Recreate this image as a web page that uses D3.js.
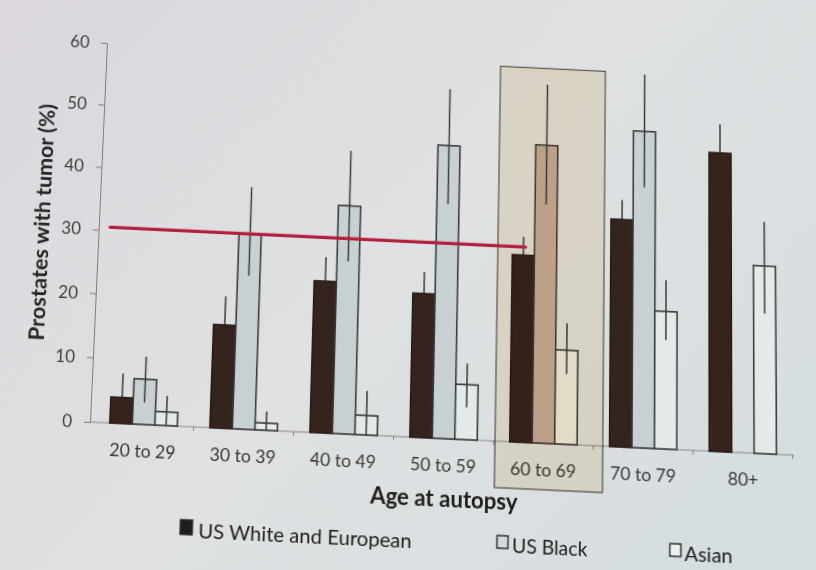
<!DOCTYPE html>
<html><head><meta charset="utf-8">
<script src="https://cdn.jsdelivr.net/npm/d3@7"></script>
<style>
html,body{margin:0;padding:0;width:816px;height:570px;overflow:hidden;}
body{background:linear-gradient(150deg,#dbd7dd 0%,#dfe1e2 50%,#d5dde0 100%);}
#wrap{position:absolute;left:0;top:0;width:816px;height:570px;transform-origin:0 0;}
svg{display:block;overflow:visible;font-family:Lato,"Open Sans",sans-serif;}
</style></head><body><div id="wrap"></div>
<script>
// ---------- data ----------
const categories = ["20 to 29","30 to 39","40 to 49","50 to 59","60 to 69","70 to 79","80+"];
const seriesNames = ["US White and European","US Black","Asian"];
const whiteValues = [4.0, 16.0, 23.6, 22.4, 29.2, 35.6, 47.0];
const whiteLow    = [0.4, 11.5, 19.8, 19.0, 26.3, 32.5, 42.4];
const whiteHigh   = [7.7, 20.5, 27.4, 25.8, 32.1, 38.7, 51.6];
const blackValues = [7.0, 30.5, 35.7, 46.1, 46.9, 49.9, null];
const blackLow    = [3.4, 23.9, 26.9, 36.7, 37.4, 40.9, null];
const blackHigh   = [10.5, 37.9, 44.5, 55.2, 56.7, 59.1, null];
const asianValues = [2.1, 1.1, 3.0, 8.5, 14.6, 21.4, 29.3];
const asianLow    = [0, 0, 0, 5.0, 10.9, 16.9, 21.8];
const asianHigh   = [4.6, 2.9, 6.8, 11.8, 18.8, 26.3, 36.3];
const yTicks = [0,10,20,30,40,50,60];
const yTitle = "Prostates with tumor (%)";
const xTitle = "Age at autopsy";
const referenceLineValue = 30.5;
const highlightedCategory = "60 to 69";

// ---------- setup ----------
const W = 816, H = 570;
const svg = d3.select("#wrap").append("svg").attr("width", W).attr("height", H);
const defs = svg.append("defs");
const bg = defs.append("linearGradient").attr("id","bg").attr("gradientUnits","userSpaceOnUse")
  .attr("x1",0).attr("y1",0).attr("x2",700).attr("y2",620);
bg.append("stop").attr("offset","0%").attr("stop-color","#dbd7dd");
bg.append("stop").attr("offset","50%").attr("stop-color","#dfe1e2");
bg.append("stop").attr("offset","100%").attr("stop-color","#d5dde0");
svg.append("rect").attr("x",-60).attr("y",-60).attr("width",W+120).attr("height",H+120).attr("fill","url(#bg)");

const x0 = 90, y0 = 422, yTop = 43;
const x = d3.scaleBand().domain(categories).range([93.5, 793.5]).paddingInner(0).paddingOuter(0);
const y = d3.scaleLinear().domain([0,60]).range([y0, yTop]);

const series = [
  {key:"white", name:seriesNames[0], values:whiteValues, low:whiteLow, high:whiteHigh, fill:"#35241d", hlFill:"#35241d", stroke:"#2a1b15", legend:"#1d1d1d"},
  {key:"black", name:seriesNames[1], values:blackValues, low:blackLow, high:blackHigh, fill:"#c7d0d3", hlFill:"#c2aa9c", stroke:"#3c3c3c", legend:"#d5dadc"},
  {key:"asian", name:seriesNames[2], values:asianValues, low:asianLow, high:asianHigh, fill:"#e4e9ea", hlFill:"#e8e9e6", stroke:"#3c3c3c", legend:"#eceff0"}
];
const sub = d3.scaleBand().domain(series.map(s=>s.key)).range([-33.75, 33.75]);
const cx = (cat, key) => x(cat) + x.bandwidth()/2 + sub(key) + sub.bandwidth()/2;

// ---------- axes ----------
const yAxis = svg.append("g").attr("transform",`translate(${x0},0)`)
  .call(d3.axisLeft(y).tickValues(yTicks).tickSize(6).tickPadding(12).tickSizeOuter(0));
yAxis.select(".domain").attr("stroke","#7d7d7d").attr("stroke-width",1);
yAxis.selectAll(".tick line").attr("stroke","#7d7d7d");
yAxis.selectAll(".tick text").attr("fill","#404040").style("font-size","17px").attr("font-family","Lato");

const xAxis = svg.append("g").attr("transform",`translate(0,${y0})`)
  .call(d3.axisBottom(x).tickSize(0).tickPadding(20));
xAxis.select(".domain").remove();
xAxis.selectAll(".tick text").attr("fill","#383838").attr("font-family","Lato").style("font-size","17px");
svg.append("line").attr("x1",x0).attr("x2",x.range()[1]+1).attr("y1",y0).attr("y2",y0)
  .attr("stroke","#8a8a8a").attr("stroke-width",1);
svg.append("g").selectAll("line").data(categories.slice(1).concat(["end"])).join("line")
  .attr("x1",(d,i)=>x.range()[0] + (i+1)*x.step()).attr("x2",(d,i)=>x.range()[0] + (i+1)*x.step())
  .attr("y1",y0).attr("y2",y0+4).attr("stroke","#8a8a8a");

// ---------- bars ----------
const flat = [];
series.forEach(s => categories.forEach((c,i) => {
  if (s.values[i] != null) flat.push({cat:c, key:s.key, v:s.values[i], lo:s.low[i], hi:s.high[i], s});
}));
const errLine = sel => sel
  .attr("x1", d => cx(d.cat,d.key)).attr("x2", d => cx(d.cat,d.key))
  .attr("y1", d => y(d.lo)).attr("y2", d => y(d.hi))
  .attr("stroke","#3a3a3a").attr("stroke-width",1.5);
// error bars of the dark series sit behind their bars (only the upper part shows)
svg.append("g").selectAll("line").data(flat.filter(d => d.key === "white")).join("line").call(errLine);

svg.append("g").selectAll("rect").data(flat).join("rect")
  .attr("x", d => x(d.cat) + x.bandwidth()/2 + sub(d.key))
  .attr("width", sub.bandwidth())
  .attr("y", d => y(d.v))
  .attr("height", d => y(0) - y(d.v))
  .attr("fill", d => d.cat === highlightedCategory ? d.s.hlFill : d.s.fill)
  .attr("stroke", d => d.s.stroke)
  .attr("stroke-width", 1.6);

svg.append("g").selectAll("line").data(flat.filter(d => d.key !== "white")).join("line").call(errLine);

// ---------- highlight box ----------
svg.append("rect")
  .attr("x", x(highlightedCategory) + 1.5)
  .attr("width", x.step() + 8)
  .attr("y", y(59.3))
  .attr("height", (y0 + 45) - y(59.3))
  .attr("fill","#f9f0de")
  .style("mix-blend-mode","multiply")
  .attr("stroke","#6e645c").attr("stroke-width",1.3);

// ---------- reference line ----------
svg.append("line")
  .attr("x1", x(categories[0]) + 8)
  .attr("x2", cx(highlightedCategory,"white") + 2)
  .attr("y1", y(referenceLineValue)).attr("y2", y(referenceLineValue))
  .attr("stroke","#b2203e").attr("stroke-width",3.2).attr("stroke-linecap","round");

// ---------- titles ----------
function fit(sel, w){
  sel.each(function(){
    const t = d3.select(this);
    const cur = parseFloat(t.style("font-size"));
    const len = this.getComputedTextLength();
    if (len > 0) t.style("font-size", (cur * w / len).toFixed(2) + "px");
  });
}
const ref = xAxis.selectAll(".tick text").filter(d => d === "40 to 49");
fit(ref, 66);
const catSize = ref.style("font-size");
xAxis.selectAll(".tick text").style("font-size", catSize);

svg.append("text").attr("transform","translate(40,226.5) rotate(-90)")
  .attr("text-anchor","middle").attr("fill","#262626").attr("font-weight",700)
  .style("font-size","17px").text(yTitle).call(fit, 237);

svg.append("text").attr("x",445).attr("y",488.5).attr("text-anchor","middle")
  .attr("fill","#1e1e1e").attr("font-weight",700).style("font-size","19px")
  .text(xTitle).call(fit, 147);

// ---------- legend ----------
const legendPos = [{sq:190, tx:202, w:212, s:[12,14]},{sq:504, tx:513.5, w:75, s:[11,12]},{sq:676, tx:685, w:48, s:[11,12]}];
const lg = svg.append("g");
series.forEach((s,i) => {
  const p = legendPos[i];
  lg.append("rect").attr("x", p.sq - p.s[0]/2).attr("y", 519 - p.s[1]/2)
    .attr("width",p.s[0]).attr("height",p.s[1])
    .attr("fill", s.legend)
    .attr("stroke", "#2a2a2a").attr("stroke-width",1.4);
  lg.append("text").attr("x", p.tx).attr("y", 529.5).attr("fill","#202020")
    .style("font-size","19px").text(s.name).call(fit, p.w);
});

// ---------- photo perspective (homography) ----------
function homography(src, dst){
  const A = [], b = [];
  for (let i=0;i<4;i++){
    const [sx,sy] = src[i], [dx,dy] = dst[i];
    A.push([sx,sy,1,0,0,0,-sx*dx,-sy*dx]); b.push(dx);
    A.push([0,0,0,sx,sy,1,-sx*dy,-sy*dy]); b.push(dy);
  }
  const n = 8;
  for (let c=0;c<n;c++){
    let p=c; for (let r=c+1;r<n;r++) if (Math.abs(A[r][c])>Math.abs(A[p][c])) p=r;
    [A[c],A[p]]=[A[p],A[c]]; [b[c],b[p]]=[b[p],b[c]];
    for (let r=0;r<n;r++){ if (r===c) continue; const f=A[r][c]/A[c][c];
      for (let k=c;k<n;k++) A[r][k]-=f*A[c][k]; b[r]-=f*b[c]; }
  }
  return b.map((v,i)=>v/A[i][i]);
}
const h = homography(
  [[90,422],[90,43],[700.5,422],[700.5,43]],
  [[90,422],[107,43],[700,450.7],[700,71.7]]
);
document.getElementById("wrap").style.transform =
  `matrix3d(${h[0]},${h[3]},0,${h[6]},${h[1]},${h[4]},0,${h[7]},0,0,1,0,${h[2]},${h[5]},0,1)`;
</script>
</body></html>
